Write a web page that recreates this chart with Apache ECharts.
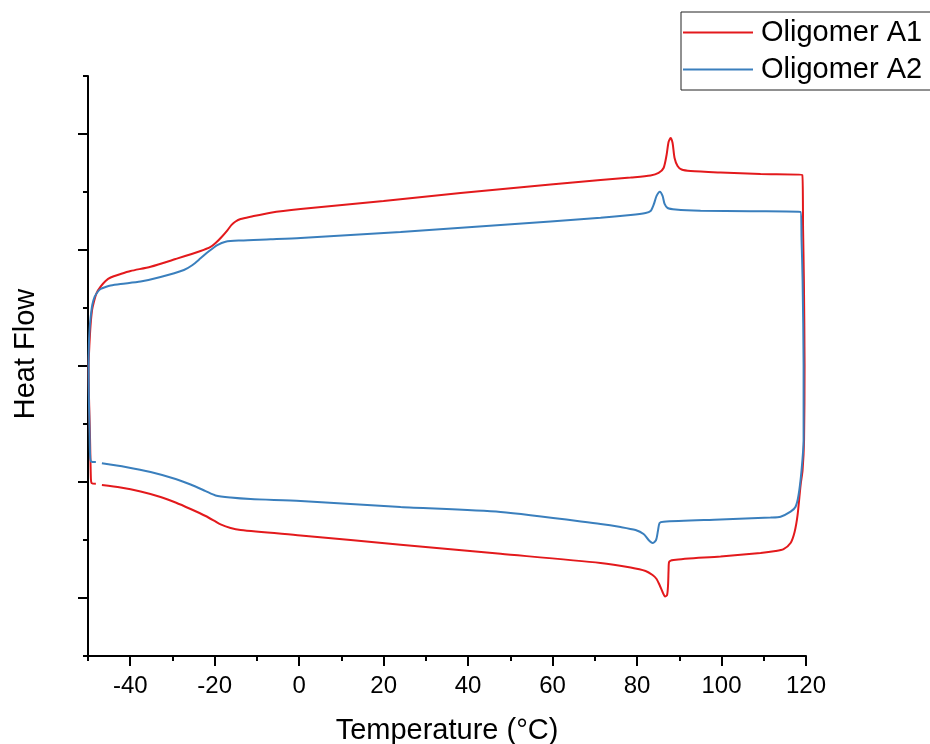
<!DOCTYPE html>
<html>
<head>
<meta charset="utf-8">
<script src="https://cdn.jsdelivr.net/npm/echarts@6/dist/echarts.min.js"></script>
<style>html,body{margin:0;padding:0;background:#fff}#c{width:930px;height:744px}</style>
</head>
<body>
<div id="c"></div>
<script>
// Temperature (°C) / Heat Flow (arbitrary units, axis unlabeled)
const seriesNames = ['Oligomer A1', 'Oligomer A2'];
const xTicks = [-40, -20, 0, 20, 40, 60, 80, 100, 120];
const yTicks = [-2, -1, 0, 1, 2];

const a1Temp = [-48.14,-49.15,-49.32,-49.51,-49.75,-49.86,-49.67,-49.39,-49.03,-48.61,-47.97,-47.02,-45.84,-44.65,-42.29,-39.92,-35.18,-29.26,-23.35,-20.98,-19.79,-18.37,-16.95,-16.01,-15.06,-13.87,-11.51,-6.77,0.33,19.98,38.21,59.52,71.36,78.47,83.20,85.10,86.28,86.99,87.46,87.94,88.41,88.88,89.59,90.54,92.67,99.77,109.25,119.12,119.31,119.50,119.66,119.54,119.19,118.72,118.01,117.30,116.35,114.69,112.80,109.25,99.77,88.65,87.58,87.46,87.34,87.11,86.63,86.04,85.33,84.62,83.67,82.02,78.47,71.36,47.69,24.01,0.33,-13.87,-16.24,-18.61,-20.03,-22.16,-25.71,-29.26,-32.82,-37.55,-42.29,-46.71];
const a1Flow = [-1.015,-1.009,-0.966,-0.638,-0.293,0,0.181,0.353,0.483,0.552,0.629,0.684,0.733,0.763,0.793,0.819,0.856,0.922,0.991,1.026,1.060,1.112,1.172,1.216,1.246,1.267,1.287,1.322,1.353,1.422,1.491,1.565,1.603,1.625,1.642,1.664,1.707,1.819,1.931,1.966,1.922,1.793,1.724,1.694,1.681,1.668,1.655,1.647,1.172,0.741,0,-0.638,-0.897,-1.026,-1.284,-1.431,-1.526,-1.578,-1.595,-1.612,-1.642,-1.672,-1.690,-1.759,-1.888,-1.974,-1.987,-1.948,-1.888,-1.836,-1.802,-1.767,-1.737,-1.698,-1.619,-1.541,-1.461,-1.414,-1.397,-1.366,-1.336,-1.293,-1.233,-1.177,-1.129,-1.082,-1.047,-1.026];

const a2Temp = [-48.14,-49.27,-49.51,-49.63,-49.79,-49.86,-49.79,-49.63,-49.39,-48.99,-48.44,-47.73,-47.02,-45.84,-44.65,-42.29,-37.55,-32.82,-27.30,-25.24,-23.35,-21.45,-19.39,-17.43,-13.87,-6.77,0.33,24.01,47.69,71.36,78.47,82.02,83.20,83.91,84.62,85.40,86.04,86.52,87.23,89.12,95.04,106.88,118.72,118.95,119.19,119.43,119.43,118.95,118.24,117.53,116.35,113.98,111.61,99.77,86.28,85.33,84.98,84.50,83.67,82.73,81.54,79.65,76.10,71.36,47.69,24.01,0.33,-11.51,-16.24,-19.79,-22.16,-25.71,-29.26,-35.18,-41.10,-46.71];
const a2Flow = [-0.828,-0.823,-0.767,-0.552,-0.293,0,0.181,0.310,0.414,0.526,0.595,0.638,0.664,0.681,0.694,0.707,0.728,0.767,0.828,0.871,0.928,0.987,1.043,1.072,1.082,1.092,1.103,1.155,1.216,1.278,1.302,1.319,1.336,1.388,1.466,1.503,1.466,1.397,1.362,1.349,1.339,1.334,1.328,1.086,0.741,0,-0.638,-0.897,-1.112,-1.213,-1.256,-1.299,-1.306,-1.323,-1.342,-1.353,-1.414,-1.500,-1.526,-1.500,-1.448,-1.414,-1.388,-1.362,-1.259,-1.216,-1.164,-1.147,-1.134,-1.116,-1.078,-1.022,-0.974,-0.914,-0.871,-0.839];

const colors = ['#e3191c', '#3a7fbd'];
const FONT = 'Liberation Sans, Arial, sans-serif';

function pairs(xs, ys) { return xs.map((x, i) => [x, ys[i]]); }

const chart = echarts.init(document.getElementById('c'), null, { renderer: 'canvas' });
const axisCommon = { min: -50, max: 120, interval: 10 };
const yCommon = { min: -2.5, max: 2.5, interval: 0.5 };
chart.setOption({
  animation: false,
  backgroundColor: '#fff',
  grid: { left: 88, right: 124, top: 76, bottom: 88, containLabel: false, outerBoundsMode: 'none' },
  legend: {
    data: seriesNames,
    orient: 'vertical',
    left: 681, top: 12,
    padding: [4, 40, 4, 2],
    itemGap: 4,
    icon: 'rect',
    itemWidth: 70, itemHeight: 2,
    borderColor: '#222', borderWidth: 1,
    textStyle: { fontSize: 29, color: '#000', fontFamily: FONT, padding: [0, 0, 0, 3], lineHeight: 33 }
  },
  xAxis: [
    Object.assign({
      type: 'value', position: 'bottom',
      name: 'Temperature (°C)', nameLocation: 'middle', nameGap: 60,
      nameTextStyle: { fontSize: 29, color: '#000', fontFamily: FONT },
      axisLine: { onZero: false, lineStyle: { color: '#000', width: 2 } },
      axisTick: { show: true, length: 5, lineStyle: { color: '#000', width: 2 } },
      axisLabel: { fontSize: 24, color: '#000', fontFamily: FONT, margin: 18,
        formatter: v => (xTicks.indexOf(v) >= 0 ? String(v) : '') },
      splitLine: { show: false }
    }, axisCommon),
    Object.assign({
      type: 'value', position: 'bottom',
      axisLine: { show: false, onZero: false },
      axisTick: { show: true, length: 10, customValues: xTicks, lineStyle: { color: '#000', width: 2 } },
      axisLabel: { show: false },
      splitLine: { show: false }
    }, axisCommon)
  ],
  yAxis: [
    Object.assign({
      type: 'value', position: 'left',
      name: 'Heat Flow', nameLocation: 'middle', nameGap: 48,
      nameTextStyle: { fontSize: 29, color: '#000', fontFamily: FONT, padding: [0, 0, 0, 24] },
      axisLine: { show: true, onZero: false, lineStyle: { color: '#000', width: 2 } },
      axisTick: { show: true, length: 5, lineStyle: { color: '#000', width: 2 } },
      axisLabel: { show: false },
      splitLine: { show: false }
    }, yCommon),
    Object.assign({
      type: 'value', position: 'left',
      axisLine: { show: false, onZero: false },
      axisTick: { show: true, length: 10, customValues: yTicks, lineStyle: { color: '#000', width: 2 } },
      axisLabel: { show: false },
      splitLine: { show: false }
    }, yCommon)
  ],
  series: [
    { name: seriesNames[0], type: 'line', data: pairs(a1Temp, a1Flow), showSymbol: false, symbol: 'none',
      smooth: 0.25, lineStyle: { color: colors[0], width: 2 }, itemStyle: { color: colors[0] } },
    { name: seriesNames[1], type: 'line', data: pairs(a2Temp, a2Flow), showSymbol: false, symbol: 'none',
      smooth: 0.25, lineStyle: { color: colors[1], width: 2 }, itemStyle: { color: colors[1] } }
  ]
});
</script>
</body>
</html>
